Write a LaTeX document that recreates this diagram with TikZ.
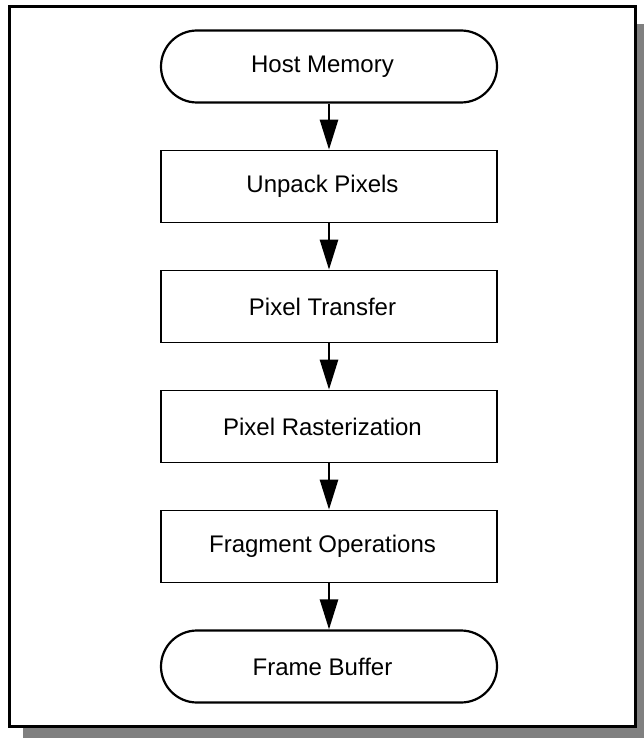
\documentclass[tikz,border=0pt]{standalone}
\usepackage{fontspec}
\setmainfont{Liberation Sans}
\usetikzlibrary{arrows.meta}

\tikzset{
  stage/.style={draw=black, line width=1.6pt, fill=white,
    minimum width=336pt, minimum height=72pt, inner sep=0pt,
    font=\fontsize{24}{28}\selectfont,
    execute at end node={\hspace*{13pt}}},
  terminal/.style={stage, line width=2.2pt, rounded corners=36pt},
  flow/.style={line width=2.6pt, -{Triangle[length=30pt, width=18pt]}},
}

\begin{document}
\begin{tikzpicture}[x=1pt, y=-1pt]
  \useasboundingbox (0,0) rectangle (644,738);
  % drop shadow and outer frame
  \fill[black!50] (23,24) rectangle (644,738);
  \draw[line width=3pt, fill=white] (9.5,6.5) rectangle (635,726.5);

  % pipeline stages
  \node[terminal] (host)  at (329,66.5)  {Host Memory};
  \node[stage]    (unpack) at (329,186.5) {Unpack Pixels};
  \node[stage]    (xfer)  at (329,306.5) {Pixel Transfer};
  \node[stage]    (rast)  at (329,426.5) {Pixel Rasterization};
  \node[stage]    (frag)  at (329,546.5) {Fragment Operations};
  \node[terminal] (fb)    at (329,666.5) {Frame Buffer};

  % connectors
  \draw[flow] (host) -- (unpack);
  \draw[flow] (unpack) -- (xfer);
  \draw[flow] (xfer) -- (rast);
  \draw[flow] (rast) -- (frag);
  \draw[flow] (frag) -- (fb);
\end{tikzpicture}
\end{document}
